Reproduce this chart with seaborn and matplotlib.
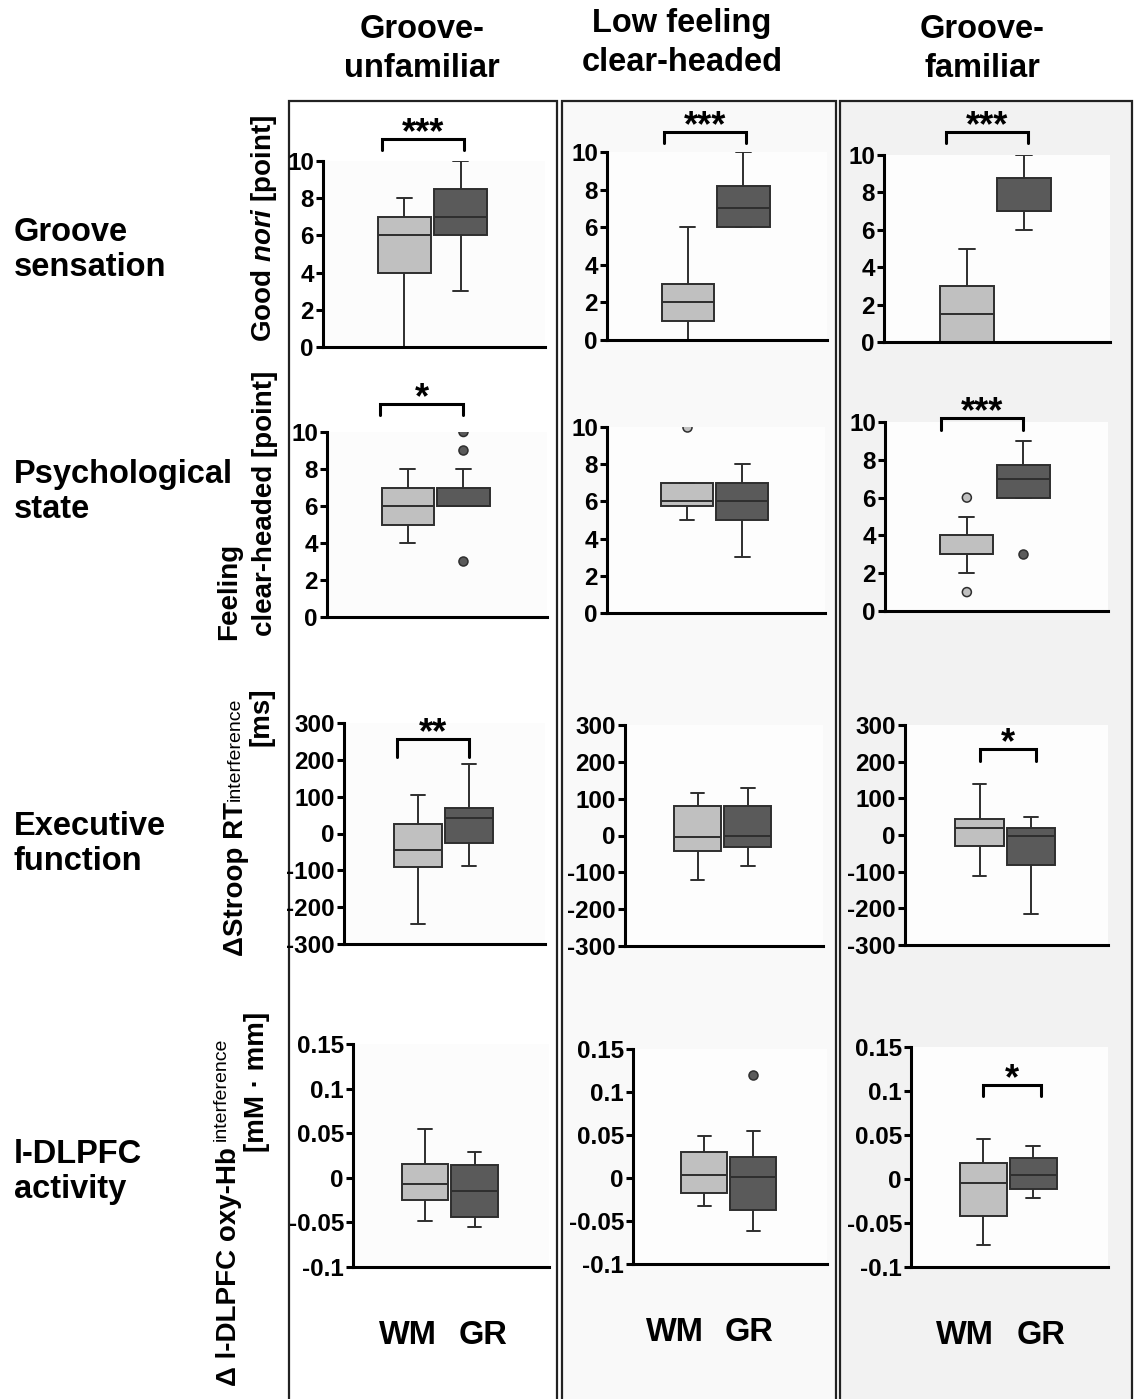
import numpy as np
import pandas as pd
import matplotlib.pyplot as plt
import seaborn as sns
from matplotlib.patches import Rectangle
from matplotlib.ticker import FuncFormatter

# ---- data ---------------------------------------------------------------
conditions = ["Groove-\nunfamiliar", "Low feeling\nclear-headed", "Groove-\nfamiliar"]
groups = ["WM", "GR"]
row_names = ["Groove\nsensation", "Psychological\nstate", "Executive\nfunction", "l-DLPFC\nactivity"]

# five-number summaries (min, q1, median, q3, max), one per condition
nori_wm = [[0, 4, 6, 7, 8], [0, 1, 2, 3, 6], [0, 0, 1.5, 3, 5]]
nori_gr = [[3, 6, 7, 8.5, 10], [6, 6, 7, 8.2, 10], [6, 7, 7, 8.75, 10]]
clear_wm = [[4, 5, 6, 7, 8], [5, 5.75, 6, 7, 7], [2, 3, 3, 4, 5]]
clear_gr = [[6, 6, 6, 7, 8], [3, 5, 6, 7, 8], [6, 6, 7, 7.75, 9]]
stroop_wm = [[-245, -90, -45, 25, 105], [-120, -42, -5, 80, 115], [-113, -30, 20, 45, 140]]
stroop_gr = [[-88, -25, 42, 68, 190], [-83, -32, 0, 80, 130], [-215, -83, -3, 20, 50]]
hb_wm = [[-0.048, -0.025, -0.007, 0.015, 0.055], [-0.033, -0.018, 0.003, 0.030, 0.049],
         [-0.075, -0.042, -0.005, 0.018, 0.045]]
hb_gr = [[-0.055, -0.044, -0.015, 0.014, 0.029], [-0.062, -0.037, 0.001, 0.024, 0.055],
         [-0.022, -0.011, 0.004, 0.024, 0.037]]

# outliers
nori_wm_out = [[], [], []]
nori_gr_out = [[], [], []]
clear_wm_out = [[], [10], [1, 6]]
clear_gr_out = [[3, 9, 10], [], [3]]
stroop_wm_out = [[], [], []]
stroop_gr_out = [[], [], []]
hb_wm_out = [[], [], []]
hb_gr_out = [[], [0.12], []]

sig_nori = ["***", "***", "***"]
sig_clear = ["*", "", "***"]
sig_stroop = ["**", "", "*"]
sig_hb = ["", "", "*"]

ticks_nori = [0, 2, 4, 6, 8, 10]
ticks_stroop = [-300, -200, -100, 0, 100, 200, 300]
ticks_hb = [-0.1, -0.05, 0, 0.05, 0.1, 0.15]

# ---- layout (pixels) ------------------------------------------------------
W, H = 1136, 1399


def fx(px):
    return px / W


def fy(py):
    return 1 - py / H


panel_px = [
    [(323, 161, 545, 347), (607, 152, 827, 340), (884, 155, 1110, 342)],
    [(327, 432, 547, 617), (607, 427, 825, 613), (885, 422, 1108, 611)],
    [(344, 723, 545, 944), (625, 725, 823, 946), (905, 725, 1108, 945)],
    [(353, 1044, 549, 1267), (633, 1049, 827, 1264), (911, 1047, 1108, 1267)],
]

# bracket: x left, x right (category units), top y, leg y (data units)
brackets = [
    [(-0.4, 1.05, 11.2, 10.6), (-0.43, 1.05, 11.06, 10.48), (-0.36, 1.07, 11.23, 10.64)],
    [(-0.5, 1.0, 11.5, 10.9), None, (-0.45, 1.0, 10.2, 9.6)],
    [(-0.4, 1.0, 256, 208), None, (0.0, 1.1, 235, 202)],
    [None, None, (0.0, 1.15, 0.107, 0.094)],
]

col_frames = [(289, 557, "#ffffff"), (562, 836, "#f9f9f9"), (840, 1132, "#f2f2f2")]
axes_face = ["#fcfcfc", "#fdfdfd", "#fdfdfd"]
label_ticks = [[-0.35, 1.18], [-0.6, 0.92], [-0.36, 1.16]]

light, dark, edge = "#c0c0c0", "#5a5a5a", "#2e2e2e"
palette = {"WM": light, "GR": dark}

rows = [
    (nori_wm, nori_gr, nori_wm_out, nori_gr_out, sig_nori, (0, 10), ticks_nori),
    (clear_wm, clear_gr, clear_wm_out, clear_gr_out, sig_clear, (0, 10), ticks_nori),
    (stroop_wm, stroop_gr, stroop_wm_out, stroop_gr_out, sig_stroop, (-300, 300), ticks_stroop),
    (hb_wm, hb_gr, hb_wm_out, hb_gr_out, sig_hb, (-0.1, 0.15), ticks_hb),
]

sns.set_theme(style="ticks")
plt.rcParams.update({
    "font.family": ["Liberation Sans", "DejaVu Sans"],
    "font.weight": "bold",
    "mathtext.fontset": "custom",
    "mathtext.rm": "Liberation Sans",
    "mathtext.it": "Liberation Sans:italic:bold",
    "mathtext.bf": "Liberation Sans:bold",
    "axes.linewidth": 2.2,
    "axes.edgecolor": "black",
    "text.color": "black",
    "xtick.color": "black",
    "ytick.color": "black",
    "xtick.labelcolor": "black",
    "ytick.labelcolor": "black",
})

fig = plt.figure(figsize=(W / 100, H / 100), dpi=100)
fig.patch.set_facecolor("white")

for x0, x1, c in col_frames:
    fig.add_artist(Rectangle((fx(x0), fy(1420)), fx(x1 - x0), (1420 - 101) / H,
                             transform=fig.transFigure, facecolor=c,
                             edgecolor="#222222", lw=1.6, zorder=0))

fmt = FuncFormatter(lambda v, p: f"{v:g}")

for r, (wm, gr, wm_out, gr_out, sig, ylim, yticks) in enumerate(rows):
    for c in range(3):
        x0, y0, x1, y1 = panel_px[r][c]
        ax = fig.add_axes([fx(x0), fy(y1), fx(x1 - x0), (y1 - y0) / H])
        ax.set_facecolor(axes_face[c])

        df = pd.DataFrame({
            "group": ["WM"] * 5 + ["GR"] * 5,
            "value": list(wm[c]) + list(gr[c]),
        })
        sns.boxplot(data=df, x="group", y="value", hue="group", order=groups,
                    hue_order=groups, palette=palette, width=0.94, whis=(0, 100),
                    showfliers=False, linecolor=edge, linewidth=1.4,
                    capwidths=0.27, legend=False, ax=ax)

        out = pd.DataFrame({
            "group": ["WM"] * len(wm_out[c]) + ["GR"] * len(gr_out[c]),
            "value": list(wm_out[c]) + list(gr_out[c]),
        })
        if len(out):
            sns.stripplot(data=out, x="group", y="value", hue="group", order=groups,
                          hue_order=groups, palette=palette, jitter=False, size=6.5,
                          linewidth=1.1, edgecolor=edge, legend=False, ax=ax, zorder=5)

        ax.set_xlim(-1.45, 2.5)
        ax.set_ylim(*ylim)
        ax.set_yticks(yticks)
        ax.yaxis.set_major_formatter(fmt)
        ax.tick_params(axis="y", length=5, width=2.2, labelsize=17.5, pad=1.5)
        ax.tick_params(axis="x", length=0)
        ax.set_xlabel("")
        ax.set_ylabel("")
        sns.despine(ax=ax)
        for lab in ax.get_yticklabels():
            lab.set_fontweight("bold")

        if r == 3:
            ax.set_xticks(label_ticks[c], groups)
            ax.tick_params(axis="x", labelsize=23.5, pad=38)
            for lab in ax.get_xticklabels():
                lab.set_fontweight("bold")
        else:
            ax.set_xticks([])

        b = brackets[r][c]
        if b is not None and sig[c]:
            xl, xr, yt, yl = b
            ax.plot([xl, xl, xr, xr], [yl, yt, yt, yl], color="black", lw=2.2,
                    clip_on=False, solid_joinstyle="miter")
            ax.annotate(sig[c], xy=((xl + xr) / 2, yt), xytext=(0, -3),
                        textcoords="offset points", ha="center", va="baseline",
                        fontsize=26, fontweight="bold", annotation_clip=False)

# column headers
for (cx, cy), text in zip([(422, 49), (682, 43), (982, 49)], conditions):
    fig.text(fx(cx), fy(cy), text, ha="center", va="center", fontsize=23.5,
             fontweight="bold", linespacing=1.3)

# row names
for cy, text in zip([250, 492, 844, 1172], row_names):
    fig.text(fx(14), fy(cy), text, ha="left", va="center", fontsize=23.5,
             fontweight="bold", linespacing=1.15)

# y-axis titles
fig.text(fx(264), fy(228), "Good $\\mathit{nori}$ [point]", rotation=90,
         ha="center", va="center", fontsize=20, fontweight="bold")
fig.text(fx(229), fy(640), "Feeling", rotation=90, ha="center", va="bottom",
         fontsize=20, fontweight="bold")
fig.text(fx(265), fy(636), "clear-headed [point]", rotation=90, ha="center",
         va="bottom", fontsize=20, fontweight="bold")

renderer = fig.canvas.get_renderer()


def label_with_small(x, y_bottom, main, small, small_x, gap):
    t = fig.text(fx(x), fy(y_bottom), main, rotation=90, ha="center", va="bottom",
                 fontsize=20, fontweight="bold")
    top = t.get_window_extent(renderer).y1
    fig.text(fx(small_x), (top + gap) / H, small, rotation=90, ha="center",
             va="bottom", fontsize=14, fontweight="normal")


label_with_small(236, 956, "ΔStroop RT", "interference", 235, 1)
fig.text(fx(261), fy(688), "[ms]", rotation=90, ha="center", va="top",
         fontsize=20, fontweight="bold")
label_with_small(229, 1386, "Δ l-DLPFC oxy-Hb", "interference", 221, 6)
fig.text(fx(257), fy(1012), "[mM · mm]", rotation=90, ha="center", va="top",
         fontsize=20, fontweight="bold")

fig.savefig("out.png", dpi=100)
